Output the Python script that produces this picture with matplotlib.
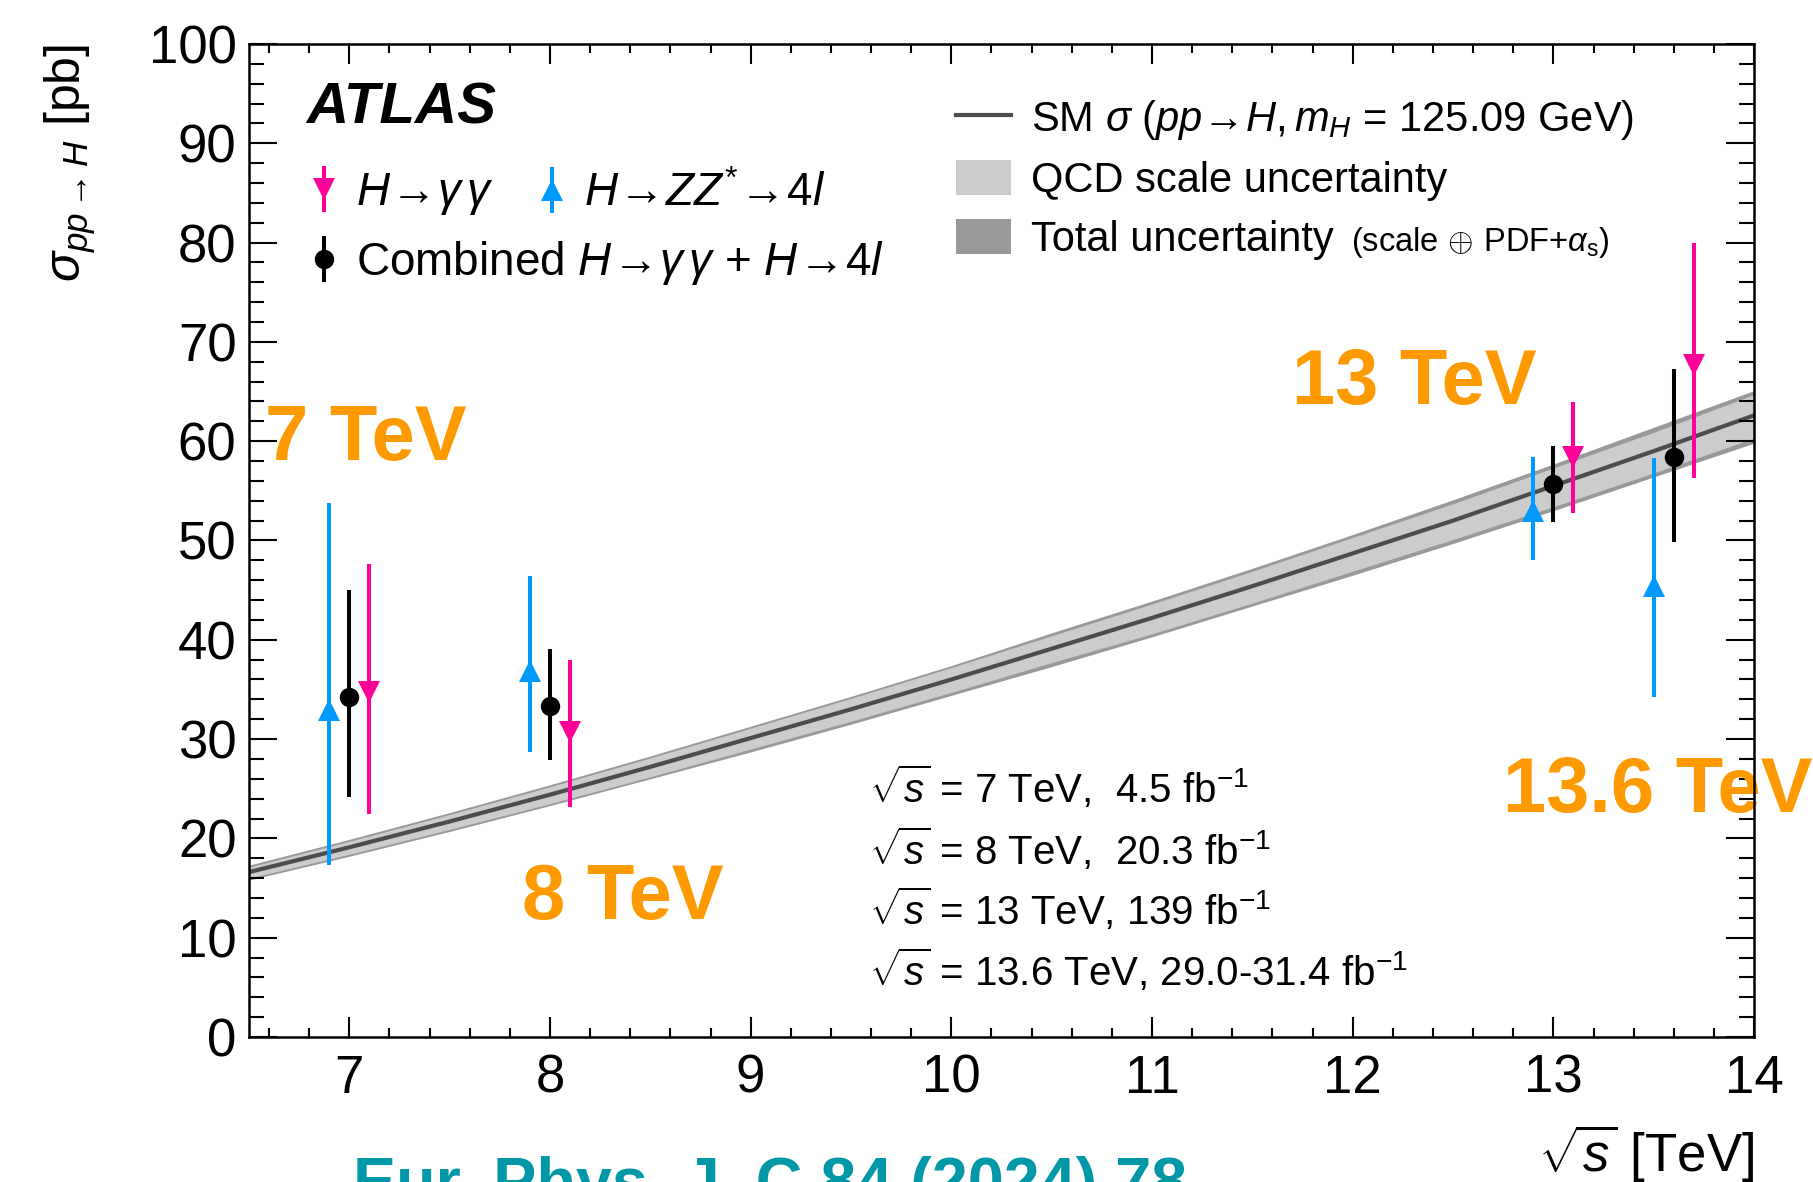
import numpy as np
import matplotlib
matplotlib.use("Agg")
import matplotlib.pyplot as plt
from matplotlib.patches import Patch
from matplotlib.lines import Line2D
from matplotlib.ticker import MultipleLocator

plt.rcParams['font.family'] = ['Liberation Sans', 'DejaVu Sans']
plt.rcParams['mathtext.fontset'] = 'custom'
plt.rcParams['mathtext.rm'] = 'Liberation Sans'
plt.rcParams['mathtext.it'] = 'Liberation Sans:italic'
plt.rcParams['mathtext.bf'] = 'Liberation Sans:bold'
plt.rcParams['mathtext.sf'] = 'Liberation Sans'

# ---------------- data ----------------
# SM prediction vs sqrt(s)
sqrt_s = [6.5, 7.0, 7.5, 8.0, 8.5, 9.0, 9.5, 10.0, 10.5, 11.0, 11.5, 12.0, 12.5, 13.0, 13.5, 14.0]
sm_sigma = [16.6, 19.1, 21.7, 24.4, 27.2, 30.1, 33.0, 36.0, 39.1, 42.2, 45.4, 48.7, 52.0, 55.5, 59.0, 62.6]
qcd_lo = [16.0, 18.4, 20.9, 23.5, 26.2, 29.0, 31.8, 34.7, 37.7, 40.6, 43.7, 46.9, 50.1, 53.4, 56.8, 60.3]
qcd_hi = [17.1, 19.7, 22.4, 25.2, 28.1, 31.1, 34.1, 37.2, 40.4, 43.6, 46.9, 50.3, 53.7, 57.3, 60.9, 64.7]
tot_lo = [15.8, 18.2, 20.7, 23.3, 26.0, 28.7, 31.5, 34.4, 37.3, 40.3, 43.4, 46.5, 49.7, 53.0, 56.4, 59.8]
tot_hi = [17.3, 19.9, 22.6, 25.4, 28.3, 31.3, 34.3, 37.4, 40.7, 43.9, 47.2, 50.6, 54.1, 57.7, 61.4, 65.1]

# H -> gamma gamma
gg_x = [7.1, 8.1, 13.1, 13.7]
gg_y = [34.7, 30.7, 58.4, 67.7]
gg_lo = [12.2, 7.5, 5.6, 11.4]
gg_hi = [12.9, 7.3, 5.5, 12.3]

# H -> ZZ* -> 4l
zz_x = [6.9, 7.9, 12.9, 13.5]
zz_y = [32.9, 36.9, 53.0, 45.4]
zz_lo = [15.6, 8.2, 5.0, 11.2]
zz_hi = [20.9, 9.5, 5.4, 12.9]

# Combined
cb_x = [7.0, 8.0, 13.0, 13.6]
cb_y = [34.2, 33.3, 55.7, 58.4]
cb_lo = [10.0, 5.4, 3.8, 8.6]
cb_hi = [10.8, 5.8, 3.8, 8.9]

energy_labels = ['7 TeV', '8 TeV', '13 TeV', '13.6 TeV']
energy_label_pos = [(6.58, 58.1), (7.86, 11.9), (11.70, 63.7), (12.75, 22.7)]

lumi_lines = [r'$\sqrt{s}$ = 7 TeV,  4.5 fb$^{-1}$',
              r'$\sqrt{s}$ = 8 TeV,  20.3 fb$^{-1}$',
              r'$\sqrt{s}$ = 13 TeV, 139 fb$^{-1}$',
              r'$\sqrt{s}$ = 13.6 TeV, 29.0-31.4 fb$^{-1}$']
lumi_y = [23.6, 17.3, 11.3, 5.1]

# ---------------- style ----------------
PINK = '#ff0099'
BLUE = '#0099ff'
ORANGE = '#ff9900'
LIGHT = '#cccccc'
DARK = '#999999'
LINE = '#4d4d4d'

fig = plt.figure(figsize=(18.13, 11.82), dpi=100)
ax = fig.add_axes([0.1373, 0.1227, 0.8302, 0.8401])

ax.fill_between(sqrt_s, tot_lo, tot_hi, color=DARK, lw=0, zorder=1)
ax.fill_between(sqrt_s, qcd_lo, qcd_hi, color=LIGHT, lw=0, zorder=1.1)
ax.plot(sqrt_s, sm_sigma, color=LINE, lw=3, zorder=1.2)

eb_zz = ax.errorbar(zz_x, zz_y, yerr=[zz_lo, zz_hi], fmt='^', color=BLUE, ms=16.5,
                    elinewidth=2.9, capsize=0, mew=0, zorder=3)
eb_gg = ax.errorbar(gg_x, gg_y, yerr=[gg_lo, gg_hi], fmt='v', color=PINK, ms=16.5,
                    elinewidth=2.9, capsize=0, mew=0, zorder=3)
eb_cb = ax.errorbar(cb_x, cb_y, yerr=[cb_lo, cb_hi], fmt='o', color='black', ms=14,
                    elinewidth=2.9, capsize=0, mew=0, zorder=3)

ax.set_xlim(6.5, 14)
ax.set_ylim(0, 100)
ax.xaxis.set_major_locator(MultipleLocator(1))
ax.xaxis.set_minor_locator(MultipleLocator(0.2))
ax.yaxis.set_major_locator(MultipleLocator(10))
ax.yaxis.set_minor_locator(MultipleLocator(2))
ax.tick_params(axis='both', which='both', direction='in', top=True, right=True, width=1.5)
ax.tick_params(axis='x', which='major', length=14.4, pad=12, labelsize=38)
ax.tick_params(axis='x', which='minor', length=6.6)
ax.tick_params(axis='y', which='major', length=20, pad=9, labelsize=38)
ax.tick_params(axis='y', which='minor', length=10.6)
for s in ax.spines.values():
    s.set_linewidth(1.8)

ax.set_xlabel(r'$\sqrt{s}$ [TeV]', fontsize=38, loc='right')
ax.xaxis.set_label_coords(1.0, -0.086)
ax.set_ylabel(r'$\sigma_{pp\rightarrow H}$ [pb]', fontsize=36, loc='top')
ax.yaxis.set_label_coords(-0.100, 1.0)

# ATLAS label
ax.text(0.038, 0.920, 'ATLAS', transform=ax.transAxes, fontsize=42,
        fontweight='bold', fontstyle='italic', va='baseline')

# Left legends (markers)
common = dict(frameon=False, borderpad=0, handlelength=0.6, handletextpad=0.4,
              loc='center left', borderaxespad=0)
lg1 = ax.legend([eb_gg], [r'$H\!\rightarrow\!\gamma\,\gamma$'], fontsize=33,
                bbox_to_anchor=(0.041, 0.849), **common)
ax.add_artist(lg1)
lg2 = ax.legend([eb_zz], [r'$H\!\rightarrow\!ZZ^{*}\!\rightarrow\!4l$'], fontsize=33,
                bbox_to_anchor=(0.192, 0.849), **common)
ax.add_artist(lg2)
lg3 = ax.legend([eb_cb], [r'Combined $H\!\rightarrow\!\gamma\,\gamma$ + $H\!\rightarrow\!4l$'],
                fontsize=33, bbox_to_anchor=(0.041, 0.779), **common)
ax.add_artist(lg3)

# Right legend (SM prediction)
h_line = Line2D([], [], color=LINE, lw=3)
h_qcd = Patch(facecolor=LIGHT, edgecolor='none')
h_tot = Patch(facecolor=DARK, edgecolor='none')
lg4 = ax.legend([h_line, h_qcd, h_tot],
                [r'SM $\sigma$ ($pp\!\rightarrow\!H,m_{H}$ = 125.09 GeV)',
                 'QCD scale uncertainty', 'Total uncertainty'],
                fontsize=30, frameon=False, loc='upper left', bbox_to_anchor=(0.470, 0.946),
                borderpad=0, borderaxespad=0, handlelength=1.3, handleheight=0.9,
                handletextpad=0.5, labelspacing=0.44)
lg4.set_zorder(5)
ax.annotate(r'(scale$\,\oplus\,$PDF+$\alpha_{\rm s}$)', xy=(1, 0),
            xycoords=lg4.get_texts()[2], xytext=(12, 0), textcoords='offset points',
            fontsize=23.5, va='bottom', ha='left', zorder=6)

# energy labels
for lab, (xx, yy) in zip(energy_labels, energy_label_pos):
    ax.text(xx, yy, lab, fontsize=56, fontweight='bold', color=ORANGE,
            va='baseline', ha='left', clip_on=False, zorder=2)

# luminosity block
for line, yy in zip(lumi_lines, lumi_y):
    ax.text(9.59, yy, line, fontsize=29, va='baseline', ha='left')

# reference (cut off at the bottom edge, as in the original)
fig.text(353 / 1813, 1 - 1203 / 1182, 'Eur. Phys. J. C 84 (2024) 78', fontsize=46.5,
         fontweight='bold', color='#0097a7', va='baseline', ha='left')

fig.savefig('out.png', dpi=100)
